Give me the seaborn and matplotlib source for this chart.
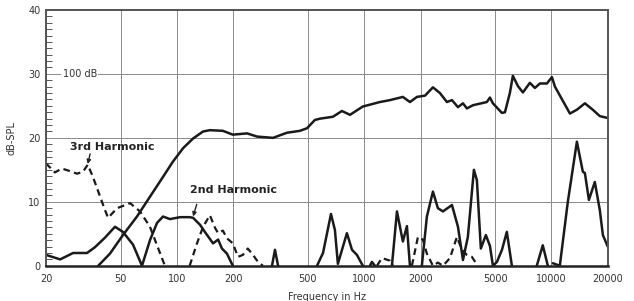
import matplotlib
matplotlib.use("Agg")
import matplotlib.pyplot as plt
import seaborn as sns
import numpy as np
from matplotlib.ticker import FixedLocator, NullLocator, MultipleLocator

# fundamental response (dB-SPL, offset so 30 = 100 dB)
fund_hz = [38, 43.9, 51.5, 61.2, 71.8, 84.3, 95.3, 108, 122, 138, 150, 176, 199, 237,
           268, 326, 387, 454, 495, 546,
           581, 681, 761, 840, 984, 1213, 1374, 1610, 1756, 1914, 2113, 2330, 2541,
           2767, 2944, 3170, 3371, 3538, 3810, 4521, 4697, 4872, 5443, 5648, 6000,
           6227, 6622, 7046, 7676, 8166, 8686, 9466, 10066, 10448, 12560, 13683,
           15100, 16634, 18140, 20000]
fund_db = [0, 1.9, 4.8, 7.7, 10.8, 13.9, 16.3, 18.4, 19.9, 21.0, 21.2, 21.1, 20.5, 20.7,
           20.2, 20.0, 20.8, 21.1, 21.5, 22.8,
           23.0, 23.3, 24.2, 23.6, 24.9, 25.6, 25.9, 26.4, 25.6, 26.4, 26.6, 27.9, 27.0,
           25.6, 25.9, 24.8, 25.4, 24.6, 25.1, 25.6, 26.3, 25.4, 23.9, 24.0, 27.0,
           29.7, 28.1, 27.1, 28.6, 27.8, 28.5, 28.5, 29.5, 28.0, 23.8, 24.4,
           25.4, 24.4, 23.4, 23.1]

# 2nd harmonic (solid), NaN = gap
h2_hz = [20, 23.8, 27.9, 33.1, 36.5, 41.3, 46.7, 51.5, 58.3, 65.1, 71.8, 78.3, 84.3, 91.8,
         104, 117, 122, 133, 141, 156, 166, 174, 185, 199, np.nan,
         322, 334, 347, np.nan,
         560, 603, 665, 698, 724, 809, 861, 915, 984, np.nan,
         1074, 1100, 1142, np.nan,
         1407, 1497, 1610, 1692, 1756, np.nan,
         2033, 2163, 2330, 2477, 2636, 2944, 3170, 3371, 3580, 3856, 4000, 4200, 4467,
         4697, 4872, 5118, 5446, 5782, 6152, np.nan,
         8356, 8995, 9572, np.nan,
         10186, 11092, 12240, 13683, 14722, 15100, 15860, 17060, 18140, 18840, 20000]
h2_db = [1.7, 1.0, 2.0, 2.0, 2.9, 4.4, 6.1, 5.3, 3.3, 0, 4.0, 6.7, 7.7, 7.3,
         7.6, 7.6, 7.5, 6.4, 5.3, 3.5, 4.1, 2.7, 1.9, 0, np.nan,
         0, 2.5, 0, np.nan,
         0, 2.0, 8.1, 5.6, 0.3, 5.1, 2.5, 1.7, 0, np.nan,
         0, 0.6, 0, np.nan,
         0, 8.5, 3.8, 6.2, 0, np.nan,
         0, 7.7, 11.6, 9.0, 8.5, 9.5, 6.1, 0.9, 4.5, 15.0, 13.4, 2.7, 4.8,
         3.1, 0, 0.6, 2.5, 5.3, 0, np.nan,
         0, 3.2, 0, np.nan,
         0.4, 0, 10.0, 19.4, 14.7, 14.5, 10.3, 13.1, 8.7, 4.8, 3.0]

# 3rd harmonic (dashed), NaN = gap
h3_hz = [20, 22.3, 24.3, 26.2, 29.3, 31.5, 33.4, 35.6, 38.9, 41.3, 42.9, 47.9, 56.2, 63.5,
         71.8, 78.3, 86.3, np.nan,
         117, 128, 138, 150, 160, 166, 176, 185, 199, 212, 225, 239, 255, 271, 288, np.nan,
         1170, 1245, 1374, 1425, np.nan,
         1799, 1937, 2059, 2163, 2330, 2477, 2636, 2872, 3129, 3329, 3538, 3760, 4048]
h3_db = [16.0, 14.6, 15.2, 14.9, 14.4, 14.7, 15.8, 13.9, 10.8, 8.7, 7.5, 9.0, 9.8, 8.5,
         6.1, 3.2, 0, np.nan,
         0, 3.5, 6.1, 7.9, 5.9, 5.1, 5.5, 4.3, 3.5, 1.4, 1.7, 2.7, 1.7, 0.6, 0, np.nan,
         0, 1.2, 0.8, 0, np.nan,
         0, 4.5, 4.1, 1.9, 0, 0.5, 0, 1.2, 4.5, 2.5, 1.7, 1.4, 0]

xtick_vals = [20, 50, 100, 200, 500, 1000, 2000, 5000, 10000, 20000]
xtick_labels = ["20", "50", "100", "200", "500", "1000", "2000", "5000", "10000", "20000"]
ytick_vals = [0, 10, 20, 30, 40]

sns.set_style("white")
plt.rcParams['font.family'] = ['DejaVu Sans']

fig = plt.figure(figsize=(6.34, 3.01), dpi=100)
ax = fig.add_axes([0.0726, 0.117, 0.886, 0.850])

ink = "#1a1a1a"
sns.lineplot(x=fund_hz, y=fund_db, ax=ax, color=ink, linewidth=1.8, sort=False)
ax.plot(h2_hz, h2_db, color=ink, linewidth=1.8)
ax.plot(h3_hz, h3_db, color=ink, linewidth=1.6, linestyle=(0, (3, 2)))

ax.set_xscale("log")
ax.set_xlim(20, 20000)
ax.set_ylim(0, 40)
ax.xaxis.set_major_locator(FixedLocator(xtick_vals))
ax.xaxis.set_minor_locator(NullLocator())
ax.set_xticks(xtick_vals)
ax.set_xticklabels(xtick_labels)
ax.set_yticks(ytick_vals)
ax.yaxis.set_minor_locator(MultipleLocator(1))

ax.grid(True, which="major", color="#8a8a8a", linewidth=0.7)
ax.tick_params(axis="x", which="both", length=0, labelsize=7, colors="#333333", pad=6)
ax.tick_params(axis="y", which="major", length=0, labelsize=7, colors="#333333", pad=4)
ax.tick_params(axis="y", which="minor", direction="in", length=4, width=0.7, color="#555555",
               left=True)
for s in ax.spines.values():
    s.set_color("#555555")
    s.set_linewidth(1.4)
ax.spines["bottom"].set_color("#222222")
ax.spines["bottom"].set_linewidth(1.8)

ax.set_xlabel("Frequency in Hz", fontsize=7, color="#333333", labelpad=6)
ax.set_ylabel("dB-SPL", fontsize=7, color="#333333", labelpad=8)

ax.text(24.5, 30, "100 dB", fontsize=7, color="#333333", va="center", ha="left",
        bbox=dict(facecolor="white", edgecolor="none", pad=1))

arrow = dict(arrowstyle="-|>", color="#222222", lw=1, shrinkA=0, shrinkB=0, mutation_scale=6)
ax.text(26.9, 18.5, "3rd Harmonic", fontsize=8, fontweight="bold", color="#222222",
        ha="left", va="center")
ax.annotate("", xy=(33.4, 15.9), xytext=(34.4, 17.5), arrowprops=arrow)
ax.text(117, 11.9, "2nd Harmonic", fontsize=8, fontweight="bold", color="#222222",
        ha="left", va="center")
ax.annotate("", xy=(122, 7.7), xytext=(127.6, 9.6), arrowprops=arrow)

fig.savefig("out.png", dpi=100)
